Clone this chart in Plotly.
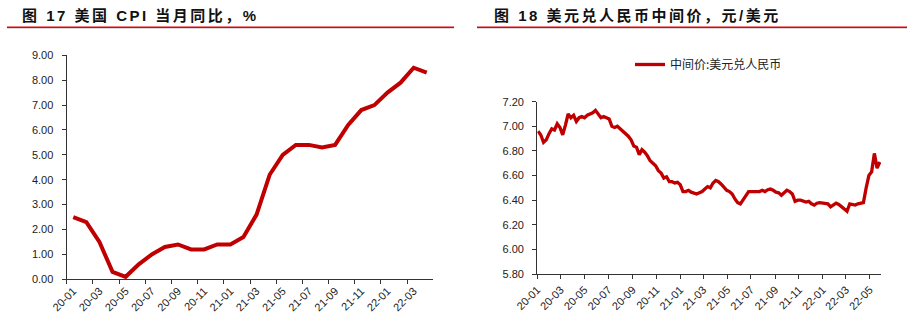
import pandas as pd
import plotly.graph_objects as go

# ---------------- data ----------------
cpi_months = ["20-01", "20-02", "20-03", "20-04", "20-05", "20-06", "20-07", "20-08",
              "20-09", "20-10", "20-11", "20-12", "21-01", "21-02", "21-03", "21-04",
              "21-05", "21-06", "21-07", "21-08", "21-09", "21-10", "21-11", "21-12",
              "22-01", "22-02", "22-03", "22-04"]
cpi_yoy = [2.5, 2.3, 1.5, 0.3, 0.1, 0.6, 1.0, 1.3, 1.4, 1.2, 1.2, 1.4,
           1.4, 1.7, 2.6, 4.2, 5.0, 5.4, 5.4, 5.3, 5.4, 6.2, 6.8, 7.0,
           7.5, 7.9, 8.5, 8.3]

# weekly (Fridays) USD/CNY central parity
fx_start = "2020-01-03"
fx_values = [
    # 2020
    6.96, 6.93, 6.87, 6.89, 6.94,          # Jan
    6.98, 6.97, 7.02, 6.99,                # Feb
    6.93, 7.01, 7.10, 7.07,                # Mar
    7.09, 7.04, 7.07, 7.08,                # Apr
    7.07, 7.09, 7.10, 7.11, 7.13,          # May
    7.10, 7.07, 7.08, 7.07,                # Jun
    7.06, 7.00, 6.99, 7.00, 6.98,          # Jul
    6.96, 6.94, 6.92, 6.89,                # Aug
    6.84, 6.83, 6.77, 6.81,                # Sep
    6.79, 6.76, 6.72, 6.70, 6.68,          # Oct
    6.64, 6.62, 6.58, 6.59,                # Nov
    6.55, 6.55, 6.54, 6.545,               # Dec
    # 2021
    6.525, 6.47, 6.47, 6.48, 6.465,        # Jan
    6.46, 6.45, 6.46, 6.47,                # Feb
    6.49, 6.51, 6.50, 6.54,                # Mar
    6.56, 6.55, 6.53, 6.50, 6.48,          # Apr
    6.47, 6.45, 6.41, 6.38,                # May
    6.37, 6.40, 6.44, 6.47,                # Jun
    6.47, 6.47, 6.475, 6.47, 6.48,         # Jul
    6.47, 6.485, 6.49, 6.48,               # Aug
    6.465, 6.46, 6.44, 6.46,               # Sep
    6.48, 6.47, 6.45, 6.39, 6.40,          # Oct
    6.40, 6.395, 6.385, 6.39,              # Nov
    6.37, 6.36, 6.375, 6.38, 6.375,        # Dec
    # 2022
    6.375, 6.37, 6.345, 6.36,              # Jan
    6.375, 6.365, 6.345, 6.33,             # Feb
    6.31, 6.37, 6.365, 6.36,               # Mar
    6.37, 6.375, 6.38, 6.50, 6.60,         # Apr
    6.63, 6.78, 6.66, 6.71,                # May
]
fx_dates = pd.date_range(fx_start, periods=len(fx_values), freq="7D")

title_left = "图 17 美国 CPI 当月同比，%"
title_right = "图 18 美元兑人民币中间价，元/美元"
legend_name = "中间价:美元兑人民币"

# ---------------- figure ----------------
W, H = 907, 317
def px(x):
    return x / W
def py(y):
    return 1 - y / H

LINE_RED = "#c00000"
AX = "#333333"
TICKFONT = dict(family="Liberation Sans, Arial, sans-serif", size=11, color="#222222")

fig = go.Figure()
fig.add_trace(go.Scatter(x=cpi_months, y=cpi_yoy, mode="lines",
                         line=dict(color=LINE_RED, width=4),
                         xaxis="x", yaxis="y", showlegend=False))
fig.add_trace(go.Scatter(x=fx_dates, y=fx_values, mode="lines", name=legend_name,
                         line=dict(color=LINE_RED, width=3.3),
                         xaxis="x2", yaxis="y2", showlegend=True))

common_axis = dict(showgrid=False, zeroline=False, showline=True, linecolor=AX, linewidth=1.3,
                   ticks="outside", ticklen=4, tickcolor=AX, tickwidth=1, tickfont=TICKFONT,
                   automargin=False)

fig.update_layout(
    width=W, height=H,
    margin=dict(l=0, r=0, t=0, b=0, pad=0),
    paper_bgcolor="white", plot_bgcolor="white",
    xaxis=dict(domain=[px(66.7), px(433.3)], anchor="y", type="category",
               categoryorder="array", categoryarray=cpi_months,
               range=[-0.5, len(cpi_months) - 0.5],
               tickmode="linear", tick0=0, dtick=2, tickson="boundaries",
               tickangle=-45, **common_axis),
    yaxis=dict(domain=[py(279.3), py(55.3)], anchor="x", range=[0, 9], dtick=1,
               tickformat=".2f", ticklabelstandoff=6, **common_axis),
    xaxis2=dict(domain=[px(537.3), px(881)], anchor="y2", type="date",
                range=["2020-01-01", "2022-05-30"], tick0="2020-01-01", dtick="M2",
                tickformat="%y-%m", tickangle=-45, **common_axis),
    yaxis2=dict(domain=[py(274), py(101.7)], anchor="x2", range=[5.8, 7.2], dtick=0.2,
                tickformat=".2f", ticklabelstandoff=6, **common_axis),
    legend=dict(x=px(630), y=py(64.5), xanchor="left", yanchor="middle",
                bgcolor="rgba(0,0,0,0)", borderwidth=0,
                font=dict(family="Noto Sans CJK SC, sans-serif", size=12, color="#222222")),
    showlegend=True,
)

title_font = dict(family="Liberation Sans, Noto Sans CJK SC, sans-serif", size=15, color="#111111")
def styled(t):
    return '<b><span style="letter-spacing:2.5px">' + t + "</span></b>"
fig.add_annotation(text=styled(title_left), x=px(20), y=py(15), xref="paper", yref="paper",
                   xanchor="left", yanchor="middle", showarrow=False, font=title_font)
fig.add_annotation(text=styled(title_right), x=px(491.7), y=py(15), xref="paper", yref="paper",
                   xanchor="left", yanchor="middle", showarrow=False, font=title_font)

for x0, x1 in [(7, 454), (477, 907)]:
    fig.add_shape(type="line", xref="paper", yref="paper", x0=px(x0), x1=px(x1),
                  y0=py(28.2), y1=py(28.2), line=dict(color="#d9d9d9", width=1.5))
    fig.add_shape(type="line", xref="paper", yref="paper", x0=px(x0), x1=px(x1),
                  y0=py(27.2), y1=py(27.2), line=dict(color="#e8000b", width=1.5))

fig.write_html("out.html")
